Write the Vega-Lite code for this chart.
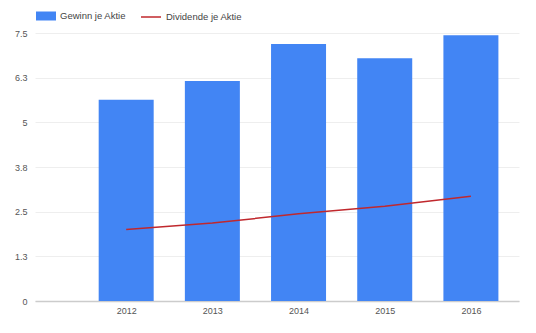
{
  "$schema": "https://vega.github.io/schema/vega-lite/v6.json",
  "width": 484,
  "height": 268,
  "autosize": {"type": "none"},
  "padding": {"left": 35, "top": 33, "right": 17, "bottom": 32},
  "background": "white",
  "config": {
    "view": {"stroke": null},
    "font": "Liberation Sans",
    "legend": {"labelFont": "Liberation Sans", "labelFontSize": 9.5, "labelColor": "#444444"}
  },
  "data": {
    "values": [
      {"Jahr": 2012, "Gewinn": 5.63, "Dividende": 2.0},
      {"Jahr": 2013, "Gewinn": 6.16, "Dividende": 2.18},
      {"Jahr": 2014, "Gewinn": 7.19, "Dividende": 2.44},
      {"Jahr": 2015, "Gewinn": 6.79, "Dividende": 2.65},
      {"Jahr": 2016, "Gewinn": 7.44, "Dividende": 2.93}
    ]
  },
  "layer": [
    {
      "mark": {"type": "bar", "size": 55},
      "encoding": {
        "x": {
          "field": "Jahr", "type": "quantitative",
          "scale": {"domain": [2011, 2016.5], "nice": false, "zero": false},
          "axis": {
            "title": null, "values": [2012, 2013, 2014, 2015, 2016], "format": "d",
            "grid": false, "ticks": false, "tickSize": 0, "labelPadding": 5,
            "domainColor": "#cccccc", "domainWidth": 1.5,
            "labelFont": "Liberation Sans", "labelFontSize": 9, "labelColor": "#555555"
          }
        },
        "y": {
          "field": "Gewinn", "type": "quantitative",
          "scale": {"domain": [0, 7.5], "nice": false},
          "axis": {
            "title": null, "values": [0, 1.25, 2.5, 3.75, 5, 6.25, 7.5], "format": ".2~g",
            "domain": false, "ticks": false, "tickSize": 0, "labelPadding": 8,
            "gridColor": "#eeeeee", "gridWidth": 1,
            "labelFont": "Liberation Sans", "labelFontSize": 9, "labelColor": "#555555"
          }
        },
        "color": {
          "datum": "Gewinn je Aktie",
          "scale": {"range": ["#4285F4"]},
          "legend": {
            "title": null, "orient": "none", "legendX": 1, "legendY": -27,
            "symbolType": "M-1,-0.45H1V0.45H-1Z", "symbolSize": 400,
            "symbolStrokeWidth": 0, "symbolOpacity": 1, "labelOffset": 4, "padding": 0
          }
        }
      }
    },
    {
      "mark": {"type": "line", "strokeWidth": 1.5},
      "encoding": {
        "x": {"field": "Jahr", "type": "quantitative"},
        "y": {"field": "Dividende", "type": "quantitative"},
        "stroke": {
          "datum": "Dividende je Aktie",
          "scale": {"range": ["#C0282D"]},
          "legend": {
            "title": null, "orient": "none", "legendX": 105, "legendY": -27,
            "symbolType": "stroke", "symbolSize": 400, "symbolStrokeWidth": 1.5,
            "labelOffset": 4, "padding": 0
          }
        }
      }
    }
  ]
}
